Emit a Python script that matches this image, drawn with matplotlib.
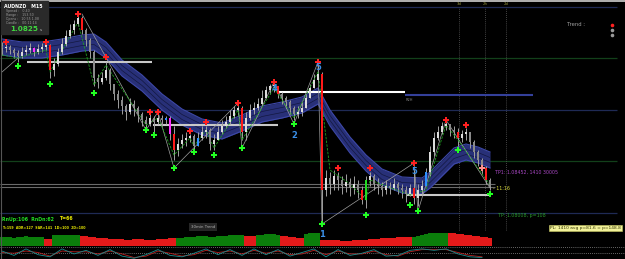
import numpy as np
import matplotlib
matplotlib.use("Agg")
import matplotlib.pyplot as plt
from matplotlib.patches import Rectangle
from matplotlib.lines import Line2D

# ---- data (AUDNZD M15) ----
symbol = "AUDNZD"
timeframe = "M15"
first_open = 1.0970
close = [1.0968, 1.0969, 1.0966, 1.0963, 1.0960, 1.0964, 1.0966, 1.0968, 1.0964, 1.0967,
         1.0969, 1.0971, 1.0946, 1.0952, 1.0964, 1.0972, 1.0980, 1.0986, 1.0992, 1.0998,
         1.0986, 1.0976, 1.0964, 1.0938, 1.0934, 1.0938, 1.0946, 1.0932, 1.0922, 1.0916,
         1.0910, 1.0904, 1.0912, 1.0908, 1.0902, 1.0896, 1.0892, 1.0898, 1.0894, 1.0898,
         1.0896, 1.0898, 1.0882, 1.0866, 1.0872, 1.0876, 1.0878, 1.0880, 1.0870, 1.0878,
         1.0884, 1.0886, 1.0872, 1.0876, 1.0884, 1.0890, 1.0894, 1.0900, 1.0906, 1.0908,
         1.0884, 1.0898, 1.0906, 1.0908, 1.0912, 1.0918, 1.0926, 1.0930, 1.0930, 1.0922,
         1.0918, 1.0914, 1.0908, 1.0902, 1.0904, 1.0908, 1.0918, 1.0928, 1.0936, 1.0942,
         1.0826, 1.0838, 1.0832, 1.0840, 1.0836, 1.0830, 1.0834, 1.0828, 1.0832, 1.0826,
         1.0816, 1.0836, 1.0840, 1.0832, 1.0830, 1.0826, 1.0830, 1.0828, 1.0832, 1.0828,
         1.0826, 1.0822, 1.0828, 1.0818, 1.0826, 1.0830, 1.0844, 1.0864, 1.0878, 1.0884,
         1.0890, 1.0892, 1.0886, 1.0884, 1.0878, 1.0882, 1.0884, 1.0874, 1.0864, 1.0856,
         1.0848, 1.0836, 1.0829]
high = [1.0974, 1.0972, 1.0971, 1.0968, 1.0966, 1.0969, 1.0971, 1.0973, 1.0969, 1.0972,
        1.0973, 1.0972, 1.0972, 1.0958, 1.0968, 1.0978, 1.0986, 1.0992, 1.0996, 1.1000,
        1.1000, 1.0988, 1.0978, 1.0966, 1.0942, 1.0944, 1.0954, 1.0948, 1.0932, 1.0926,
        1.0920, 1.0912, 1.0918, 1.0916, 1.0910, 1.0904, 1.0900, 1.0902, 1.0900, 1.0902,
        1.0901, 1.0900, 1.0900, 1.0890, 1.0878, 1.0882, 1.0884, 1.0882, 1.0882, 1.0884,
        1.0890, 1.0890, 1.0888, 1.0882, 1.0890, 1.0896, 1.0900, 1.0906, 1.0910, 1.0910,
        1.0910, 1.0904, 1.0912, 1.0914, 1.0918, 1.0926, 1.0930, 1.0932, 1.0932, 1.0930,
        1.0924, 1.0920, 1.0916, 1.0910, 1.0910, 1.0914, 1.0922, 1.0932, 1.0942, 1.0952,
        1.0944, 1.0846, 1.0844, 1.0846, 1.0844, 1.0840, 1.0842, 1.0838, 1.0840, 1.0836,
        1.0830, 1.0840, 1.0844, 1.0842, 1.0838, 1.0834, 1.0836, 1.0834, 1.0838, 1.0834,
        1.0832, 1.0830, 1.0832, 1.0846, 1.0832, 1.0836, 1.0848, 1.0870, 1.0884, 1.0890,
        1.0894, 1.0896, 1.0892, 1.0890, 1.0888, 1.0886, 1.0888, 1.0884, 1.0876, 1.0866,
        1.0858, 1.0850, 1.0838]
low = [1.0961, 1.0964, 1.0962, 1.0958, 1.0954, 1.0958, 1.0961, 1.0963, 1.0960, 1.0962,
       1.0964, 1.0966, 1.0938, 1.0940, 1.0950, 1.0962, 1.0970, 1.0978, 1.0982, 1.0990,
       1.0982, 1.0970, 1.0958, 1.0930, 1.0928, 1.0932, 1.0936, 1.0926, 1.0916, 1.0908,
       1.0902, 1.0896, 1.0902, 1.0900, 1.0894, 1.0890, 1.0888, 1.0890, 1.0884, 1.0892,
       1.0890, 1.0892, 1.0876, 1.0856, 1.0860, 1.0868, 1.0870, 1.0874, 1.0866, 1.0870,
       1.0876, 1.0878, 1.0866, 1.0866, 1.0876, 1.0882, 1.0888, 1.0892, 1.0898, 1.0900,
       1.0876, 1.0876, 1.0896, 1.0902, 1.0906, 1.0910, 1.0918, 1.0922, 1.0924, 1.0918,
       1.0912, 1.0908, 1.0902, 1.0896, 1.0898, 1.0900, 1.0908, 1.0918, 1.0928, 1.0934,
       1.0794, 1.0820, 1.0822, 1.0826, 1.0826, 1.0822, 1.0824, 1.0820, 1.0822, 1.0818,
       1.0812, 1.0808, 1.0830, 1.0826, 1.0822, 1.0820, 1.0822, 1.0822, 1.0826, 1.0822,
       1.0818, 1.0814, 1.0820, 1.0812, 1.0810, 1.0822, 1.0830, 1.0840, 1.0860, 1.0876,
       1.0882, 1.0886, 1.0880, 1.0878, 1.0870, 1.0874, 1.0876, 1.0868, 1.0858, 1.0850,
       1.0842, 1.0832, 1.0826]

# signal-coloured bars
red_bars = [12, 20, 43, 60, 69, 80, 90, 103, 114, 121]
blue_bars = [41, 49, 106]
magenta_bars = [8, 42]
green_bars = [91]

# moving-average channel centre
band_idx = [0, 5, 10, 15, 20, 23, 26, 30, 35, 40, 45, 50, 55, 60, 65, 70, 75, 79,
            82, 87, 91, 95, 100, 105, 107, 110, 113, 116, 119, 122]
band_mid = [1.0969, 1.0966, 1.0966, 1.0969, 1.0973, 1.0974, 1.0966, 1.0948, 1.0933,
            1.0914, 1.0899, 1.0889, 1.0885, 1.0893, 1.0902, 1.0906, 1.0911, 1.0920,
            1.0898, 1.0871, 1.0853, 1.0839, 1.0831, 1.0830, 1.0836, 1.0848, 1.0860,
            1.0864, 1.0861, 1.0856]
band_half = 0.0008

# fractal arrows
up_idx = [1, 11, 19, 26, 37, 39, 47, 51, 59, 68, 79, 84, 92, 103, 111, 116]
up_price = [1.0974, 1.0974, 1.1002, 1.0959, 1.0904, 1.0904, 1.0885, 1.0894, 1.0913,
            1.0934, 1.0954, 1.0848, 1.0848, 1.0853, 1.0896, 1.0891]
dn_idx = [4, 12, 23, 36, 38, 43, 48, 53, 60, 73, 80, 91, 102, 104, 114, 122]
dn_price = [1.0950, 1.0932, 1.0923, 1.0886, 1.0881, 1.0848, 1.0864, 1.0861, 1.0868,
            1.0892, 1.0792, 1.0801, 1.0811, 1.0805, 1.0866, 1.0822]
pink_idx = [120]
pink_price = [1.0848]

# zigzag and wave counts
zz_idx = [0, 4, np.nan, 20, 36, 39, 43, 59, 60, 68, 73, 79, 80, 103, 104, 111, 122]
zz_price = [1.0944, 1.0958, np.nan, 1.1002, 1.0886, 1.0904, 1.0848, 1.0913, 1.0868,
            1.0934, 1.0892, 1.0954, 1.0792, 1.0853, 1.0805, 1.0896, 1.0828]
gz_idx = [0, 4, 11, 12, 19, 23, 26, 36, 39, 43, 47, 48, 51, 53, 59, 60, 68, 73, 79,
          82, 87, 91, 92, 102, 106, 111, 114, 122]
gz_price = [1.0961, 1.0958, 1.0966, 1.0944, 1.0994, 1.0931, 1.0951, 1.0891, 1.0898,
            1.0861, 1.0878, 1.0870, 1.0886, 1.0868, 1.0906, 1.0876, 1.0928, 1.0898,
            1.0944, 1.0846, 1.0832, 1.0816, 1.0836, 1.0821, 1.0826, 1.0891, 1.0876,
            1.0831]
wave_labels = ["4", "2", "5", "1", "5"]
wave_idx = [68, 73, 79, 80, 103]
wave_price = [1.0932, 1.0885, 1.0953, 1.0786, 1.0849]

# horizontal levels
grid_price = [1.1009, 1.0958, 1.0906, 1.0855, 1.0803]
grid_kind = ["b", "g", "b", "g", "b"]
lvl_start = [6.25, 37.75, 69.25, 100.75, 101.25]
lvl_end = [37.5, 69.0, 100.75, 132.75, 122.25]
lvl_price = [1.0954, 1.0891, 1.0924, 1.0921, 1.0821]
band_lines = [1.0832, 1.0829]
session_idx = [114.25, 120.75, 126.0]
session_labels = ["3d", "2h", "2d"]

# lower panels
hist = [9, 9, 9, 8, 9, 9, 10, 9, 9, 9, 9, -7, -7, 11, 11, 11, 11, 11, 11, 11,
        -10, -10, -9, -9, -8, -8, -8, -7, -7, -7, -7, -6, -6, -7, -7, -7, -6, -6, -6, -7,
        -7, -7, -8, -8, 8, 8, 9, 9, 9, 10, 10, 10, 9, 9, 10, 10, 10, 11, 11, 11,
        11, -10, -10, -10, 11, 11, 12, 12, 12, 11, -10, -10, -9, -9, -8, -8, 12, 13, 13, 13,
        -6, -6, -6, -6, -6, -5, -5, -5, -6, -6, -6, -6, -7, -7, -7, -8, -8, -8, -8, -9,
        -9, -9, -9, 9, 10, 11, 12, 13, 13, 13, 13, 13, -13, -13, -12, -12, -11, -11, -10, -10,
        -9, -9, -8]
osc_fast = [70, 40, 85, 45, 30, 85, 50, 75, 40, 80, 35, 20, 45, 80, 40, 30, 55, 85, 45, 80,
            40, 85, 45, 80, 35, 60, 85, 30, 80, 40, 55, 80, 35, 40, 75, 85, 75, 85, 50, 30, 25]
osc_slow = [60, 55, 70, 60, 35, 70, 65, 65, 50, 70, 50, 25, 35, 70, 55, 35, 45, 75, 60, 70,
            50, 75, 55, 70, 45, 50, 75, 45, 70, 50, 50, 70, 45, 35, 65, 80, 80, 80, 60, 40, 30]

# ---- figure ----
W, H = 625, 259
fig = plt.figure(figsize=(W / 100, H / 100), dpi=100, facecolor="black")


def fpos(x, y):
    return x / W, 1 - y / H


ax = fig.add_axes([0, 27 / H, 1, 232 / H])
ax_h = fig.add_axes([0, 13 / H, 1, 14 / H])
ax_o = fig.add_axes([0, 0, 1, 13 / H])
for a in (ax, ax_h, ax_o):
    a.set_xlim(-0.5, 155.75)
    a.axis("off")
ax.set_ylim(1.0784, 1.1016)

idx = np.arange(len(close))
cl = np.array(close)
op = np.concatenate([[first_open], cl[:-1]])

# grid levels
for p, k in zip(grid_price, grid_kind):
    ax.hlines(p, -0.5, 153.75, colors="#1f2a55" if k == "b" else "#12401a", lw=0.9, zorder=1)
for p in band_lines:
    ax.hlines(p, -0.5, 123.25, colors="#6a6a6a", lw=0.8, zorder=1)
ax.vlines(session_idx, 1.0786, 1.1009, colors="#5a5a5a", linestyles=(0, (1, 1.5)), lw=0.6, zorder=1)

# channel
bm = np.array(band_mid)
ax.fill_between(band_idx, bm - band_half, bm + band_half, color="#283078", lw=0, zorder=2)
ax.plot(band_idx, bm - band_half, color="#3d48a8", lw=0.8, zorder=2)
ax.plot(band_idx, bm + band_half, color="#3d48a8", lw=0.8, zorder=2)
ax.plot(band_idx, bm - 0.00025, color="#131840", lw=0.5, zorder=2)
ax.plot(band_idx, bm + 0.00025, color="#131840", lw=0.5, zorder=2)

# level segments
seg_colors = ["#c8c8c8", "#c8c8c8", "#ffffff", "#34409a", "#c8c8c8"]
for s, e, p, c in zip(lvl_start, lvl_end, lvl_price, seg_colors):
    ax.hlines(p, s, e, colors=c, lw=1.5, zorder=3)
ax.text(101, 1.0918, "R2H", color="#8a8a8a", fontsize=2.5, va="top")

# candles
body_col = np.where(cl >= op, "#dcdcdc", "#8a8a8a").astype(object)
for lst, c in ((red_bars, "#ff1a1a"), (blue_bars, "#2f8fff"),
               (magenta_bars, "#ff30ff"), (green_bars, "#22dd22")):
    for i in lst:
        body_col[i] = c
ax.vlines(idx, low, high, colors="#a0a0a0", lw=0.7, zorder=4)
bottom = np.minimum(op, cl)
height = np.maximum(np.abs(cl - op), 0.00008)
ax.bar(idx, height, bottom=bottom, width=0.7, color=list(body_col), lw=0, zorder=5)

# zigzags
ax.plot(zz_idx, zz_price, color="#a0a0a0", lw=0.5, zorder=4)
ax.plot(gz_idx, gz_price, color="#1fa01f", lw=0.6, ls=(0, (3, 1.5)), zorder=4)

# arrows
ax.plot(up_idx, up_price, "P", color="#ff2020", ms=4.5, mew=0, zorder=7)
ax.plot(dn_idx, dn_price, "P", color="#22ff22", ms=4.5, mew=0, zorder=7)
ax.plot(pink_idx, pink_price, "P", color="#ff9090", ms=4.5, mew=0, zorder=7)
for t, i, p in zip(wave_labels, wave_idx, wave_price):
    ax.text(i, p, t, color="#3a8ee6", fontsize=6, fontweight="bold",
            ha="center", va="top", zorder=8)

# histogram
hv = np.array(hist)
ax_h.bar(idx, np.abs(hv), width=0.8, color=np.where(hv > 0, "#0b7e0b", "#e41a1a"), lw=0)
ax_h.set_ylim(0, 14)

# oscillator
oi = np.arange(0, len(close) + 1, 3)[:len(osc_fast)]
ax_o.set_ylim(15, 105)
ax_o.axhline(101, color="#8a8a8a", ls=(0, (1, 1.5)), lw=0.6)
ax_o.axhline(60, color="#8a8a8a", ls=(0, (1, 1.5)), lw=0.6)
ax_o.plot(oi, osc_slow, color="#b82020", lw=0.6)
ax_o.plot(oi, osc_fast, color="#1a8c8c", lw=0.6)

# frame
fig.add_artist(Line2D([0, 1], [1 - 0.6 / H] * 2, color="#d0d0d0", lw=1.2))
fig.add_artist(Line2D([1 / W] * 2, [0, 1], color="#555555", lw=0.8))

# info box
fig.add_artist(Rectangle(fpos(1, 34), 47 / W, 33 / H, transform=fig.transFigure,
                         color="#2a2a2a", zorder=2))
fig.text(*fpos(4, 6), f"{symbol}   {timeframe}", color="white", fontsize=3.4,
         fontweight="bold", va="center")
rows = ["Spread :   0.40", "Range :    153.50", "Opens :   10.55 1.08", "Candle :   00:11:14"]
for k, r in enumerate(rows):
    fig.text(*fpos(6, 11 + 4 * k), r, color="#9a9a9a", fontsize=2.3, va="center")
fig.text(*fpos(10, 29), "1.0825", color="#3fd63f", fontsize=5.2, fontweight="bold", va="center")
fig.text(*fpos(40, 30), "s", color="#bbbbbb", fontsize=3, va="center")

# annotations
for x, t in zip([459, 485, 506], session_labels):
    fig.text(*fpos(x, 4), t, color="#8f8f3a", fontsize=2.8, ha="center", va="center")
fig.text(*fpos(567, 25), "Trend :", color="#a0a0a0", fontsize=3.8, va="center")
for y, c in zip([25, 30, 35], ["#ff2020", "#9a9a9a", "#9a9a9a"]):
    fig.add_artist(Line2D([612 / W], [1 - y / H], marker="o", color=c, ms=2.6, mew=0))

fig.text(*fpos(495, 172), "TP1: 1.08452, 1410 30005", color="#a948c4", fontsize=3.4, va="center")
fig.text(*fpos(493, 189), "- 11:16", color="#e0e040", fontsize=3.4, va="center")
fig.text(*fpos(498, 215), "TP: 1.08008, p=108", color="#2a9a2a", fontsize=3.4, va="center")
fig.text(*fpos(550, 228), "PL: 1410 avg p=81.6 = p=148.8", color="#333300", fontsize=3.2,
         va="center", bbox=dict(boxstyle="square,pad=0.25", fc="#f2f29a", ec="#c8c860", lw=0.4))

fig.text(*fpos(2, 219), "RnUp:106  RnDn:62", color="#22dd22", fontsize=3.4,
         fontweight="bold", va="center")
fig.text(*fpos(59, 219), "T=66", color="#e6e600", fontsize=3.4, fontweight="bold", va="center")
fig.text(*fpos(2, 228), "T=159  ADR=127  SAR=141  1D=100  2D=100", color="#e6e600",
         fontsize=2.3, fontweight="bold", va="center")
fig.text(*fpos(203, 227), "30min Trend", color="#b0b0b0", fontsize=2.8, ha="center",
         va="center", bbox=dict(boxstyle="square,pad=0.5", fc="#262626", ec="none"))

fig.savefig("out.png", dpi=100, facecolor="black")
